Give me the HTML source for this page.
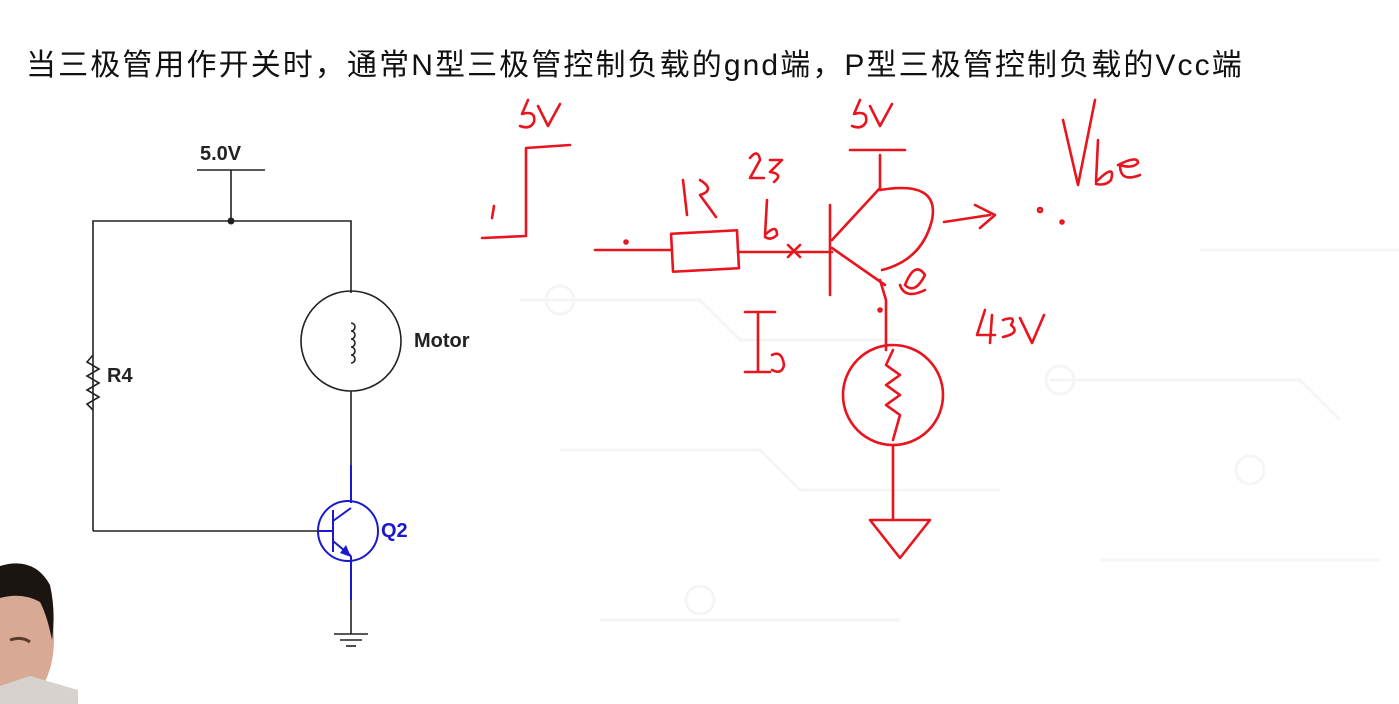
<!DOCTYPE html>
<html><head><meta charset="utf-8"><style>
html,body{margin:0;padding:0;background:#fff;}
body{width:1399px;height:704px;overflow:hidden;position:relative;font-family:"Liberation Sans","Noto Sans CJK SC",sans-serif;}
.title{position:absolute;left:26px;top:40px;font-size:30px;color:#111;white-space:nowrap;letter-spacing:2.1px;}
</style></head><body>
<svg width="1399" height="704" style="position:absolute;left:0;top:0">
 <g stroke="#f5f5f5" stroke-width="3" fill="none">
  <path d="M520 300 H700 L740 340 H900"/><path d="M560 450 H760 L800 490 H1000"/>
  <path d="M1050 380 H1300 L1340 420"/><path d="M600 620 H900"/><path d="M1100 560 H1380"/>
  <path d="M1200 250 H1399"/>
  <circle cx="560" cy="300" r="14"/><circle cx="1060" cy="380" r="14"/><circle cx="700" cy="600" r="14"/><circle cx="1250" cy="470" r="14"/>
 </g>
 <g stroke="#222" stroke-width="1.6" fill="none">
  <line x1="197" y1="170" x2="265" y2="170"/>
  <line x1="231" y1="170" x2="231" y2="221"/>
  <polyline points="93,531 93,221 351,221 351,293"/>
  <circle cx="351" cy="341" r="50"/>
  <line x1="351" y1="391" x2="351" y2="465"/>
  <path d="M351 323 a4 4 0 1 1 0 8 a4 4 0 1 1 0 8 a4 4 0 1 1 0 8 a4 4 0 1 1 0 8 a4 4 0 1 1 0 8" />
  <line x1="93" y1="531" x2="318" y2="531"/>
  <polyline points="93,355 87,362 99,369 87,376 99,383 87,390 99,397 87,404 93,410"/>
  <line x1="351" y1="600" x2="351" y2="634"/>
  <line x1="334" y1="634" x2="368" y2="634"/><line x1="340" y1="640" x2="362" y2="640"/><line x1="346" y1="646" x2="356" y2="646"/>
 </g>
 <circle cx="231" cy="221" r="3.5" fill="#222"/>
 <g stroke="#1a1acc" stroke-width="2" fill="none">
  <line x1="351" y1="465" x2="351" y2="503"/>
  <circle cx="348" cy="531" r="30"/>
  <line x1="318" y1="531" x2="333" y2="531"/>
  <line x1="333" y1="510" x2="333" y2="552"/>
  <line x1="333" y1="521" x2="351" y2="508"/>
  <line x1="333" y1="541" x2="351" y2="556"/>
  <line x1="351" y1="556" x2="351" y2="600"/>
 </g>
 <polygon points="351,557 340,553 346,545" fill="#1a1acc"/>
 <g font-family="Liberation Sans,sans-serif" font-weight="bold" font-size="20">
  <text x="200" y="160" fill="#222">5.0V</text>
  <text x="414" y="347" fill="#222">Motor</text>
  <text x="107" y="382" fill="#222">R4</text>
  <text x="381" y="537" fill="#1a1acc">Q2</text>
 </g>
 <g stroke="#e8141e" stroke-width="2.6" fill="none" stroke-linecap="round" stroke-linejoin="round">
  <polyline points="482,238 526,236 526,148 570,145"/>
  <path d="M528 100 l-6 14 q14 -4 12 8 q-4 8 -14 4 M538 106 l10 20 l12 -22"/>
  <path d="M494 206 l-2 12"/>
  <line x1="595" y1="250" x2="672" y2="250"/>
  <rect x="672" y="232" width="66" height="38" transform="rotate(-3 705 251)"/>
  <line x1="738" y1="252" x2="832" y2="252"/>
  <path d="M788 245 l12 12 M800 245 l-12 12"/>
  <line x1="830" y1="205" x2="830" y2="295"/>
  <line x1="832" y1="240" x2="880" y2="188"/>
  <line x1="832" y1="248" x2="885" y2="285"/>
  <path d="M880 188 L880 155 M850 150 L905 150"/>
  <path d="M880 190 q60 -10 52 30 q-10 40 -50 50"/>
  <path d="M880 280 L886 300 L886 350"/>
  <circle cx="893" cy="395" r="50"/>
  <polyline points="893,350 886,365 900,375 886,385 900,395 886,405 900,415 893,440"/>
  <line x1="893" y1="445" x2="893" y2="520"/>
  <path d="M870 520 L930 520 L900 558 Z"/>
  <path d="M944 222 L990 215 M975 205 L995 215 L980 228"/>
  <path d="M745 312 L775 312 M758 312 L758 372 M745 372 L770 372 M772 355 q10 -5 12 10 q-2 10 -12 5"/>
  <path d="M860 100 l-6 14 q14 -4 12 8 q-4 8 -14 4 M870 106 l10 20 l12 -22"/>
  <path d="M750 158 q8 -10 10 2 l-10 18 h14 M770 160 l12 0 l-12 12 q14 2 4 10"/>
  <path d="M683 180 l4 35 M700 180 q16 10 0 15 l16 22"/>
  <path d="M767 200 l-2 35 q12 -12 12 0 q-6 6 -12 2"/>
  <path d="M1063 120 L1078 185 L1095 100 M1098 140 l-2 42 q20 -20 15 -2 q-5 6 -15 4 M1118 165 q20 -10 20 -2 q-6 6 -18 2 q0 18 20 10"/>
  <path d="M905 285 q10 -25 20 -10 q-10 20 -20 10 M900 285 q5 15 25 5"/>
  <path d="M985 310 l-8 25 h18 M992 315 l-2 28 M1003 320 q14 -5 8 5 q10 8 -8 12 M1020 318 l12 25 l12 -28"/>
  <circle cx="1040" cy="210" r="2"/><circle cx="1062" cy="222" r="1.5"/><circle cx="626" cy="242" r="1.5"/><circle cx="880" cy="310" r="1.5"/>
 </g>
 <!-- face -->
 <ellipse cx="14" cy="640" rx="40" ry="66" fill="#d8a994"/>
 <path d="M0 566 Q34 556 50 585 Q56 612 52 640 Q47 615 40 602 Q22 592 0 598 Z" fill="#1b1512"/>
 <path d="M0 686 L30 676 L78 690 L78 704 L0 704 Z" fill="#d8d2cf"/>
 <path d="M10 640 q12 -4 20 2" stroke="#5a3a2c" stroke-width="3" fill="none"/>
</svg>
<div class="title">当三极管用作开关时，通常N型三极管控制负载的gnd端，P型三极管控制负载的Vcc端</div>
</body></html>
